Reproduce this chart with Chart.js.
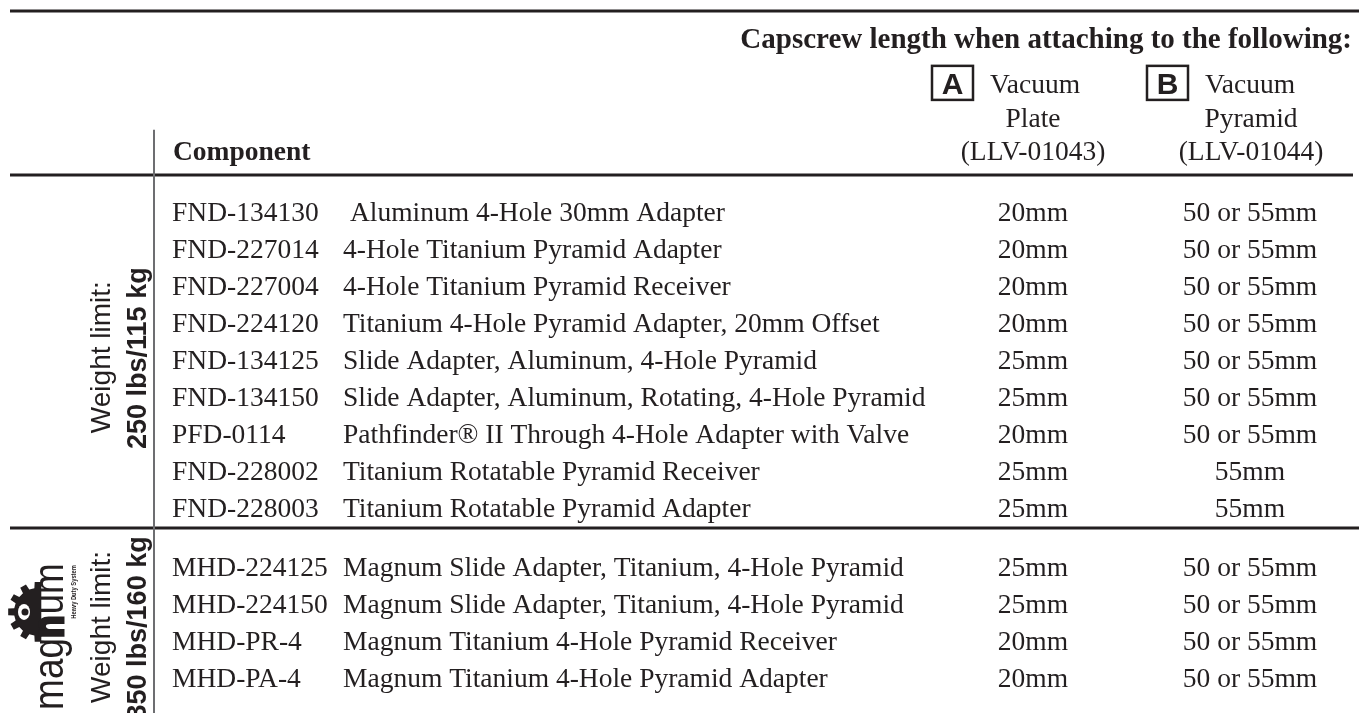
<!DOCTYPE html>
<html>
<head>
<meta charset="utf-8">
<title>Capscrew length table</title>
<script src="https://cdn.jsdelivr.net/npm/chart.js@4"></script>
<style>
  html, body { margin: 0; padding: 0; background: #fff; }
  #wrap { width: 1359px; height: 713px; }
</style>
</head>
<body>
<div id="wrap"><canvas id="myChart"></canvas></div>
<script>
// table data
const partNumbers = ['FND-134130', 'FND-227014', 'FND-227004', 'FND-224120', 'FND-134125', 'FND-134150',
    'PFD-0114', 'FND-228002', 'FND-228003', 'MHD-224125', 'MHD-224150', 'MHD-PR-4', 'MHD-PA-4'];
const descriptions = [' Aluminum 4-Hole 30mm Adapter', '4-Hole Titanium Pyramid Adapter',
    '4-Hole Titanium Pyramid Receiver', 'Titanium 4-Hole Pyramid Adapter, 20mm Offset',
    'Slide Adapter, Aluminum, 4-Hole Pyramid', 'Slide Adapter, Aluminum, Rotating, 4-Hole Pyramid',
    'Pathfinder® II Through 4-Hole Adapter with Valve', 'Titanium Rotatable Pyramid Receiver',
    'Titanium Rotatable Pyramid Adapter', 'Magnum Slide Adapter, Titanium, 4-Hole Pyramid',
    'Magnum Slide Adapter, Titanium, 4-Hole Pyramid', 'Magnum Titanium 4-Hole Pyramid Receiver',
    'Magnum Titanium 4-Hole Pyramid Adapter'];
const plateLengths = ['20mm', '20mm', '20mm', '20mm', '25mm', '25mm', '20mm', '25mm', '25mm',
    '25mm', '25mm', '20mm', '20mm'];
const pyramidLengths = ['50 or 55mm', '50 or 55mm', '50 or 55mm', '50 or 55mm', '50 or 55mm', '50 or 55mm',
    '50 or 55mm', '55mm', '55mm', '50 or 55mm', '50 or 55mm', '50 or 55mm', '50 or 55mm'];
const rowSection = [0, 0, 0, 0, 0, 0, 0, 0, 0, 1, 1, 1, 1];
const sectionWeights = ['250 lbs/115 kg', '350 lbs/160 kg'];

const headerTitle = 'Capscrew length when attaching to the following:';
const headerComponent = 'Component';
const plateHeader = ['A', 'Vacuum', 'Plate', '(LLV-01043)'];
const pyramidHeader = ['B', 'Vacuum', 'Pyramid', '(LLV-01044)'];

// layout (row units on y, pixels on x)
const ink = '#231f20';
const serif = '"Liberation Serif", "Times New Roman", serif';
const sans = '"Liberation Sans", Arial, sans-serif';
const sectionGap = 0.6;
const rowValues = rowSection.map((s, i) => i + (s ? sectionGap : 0));
const sectionCenters = [3.95, 11.24];

function column(labels, x, align) {
    return {
        data: rowValues.map(v => ({ x: x, y: v })),
        labels: labels,
        align: align,
        pointRadius: 0,
        showLine: false
    };
}

const cellText = {
    id: 'cellText',
    afterDatasetsDraw(chart) {
        const ctx = chart.ctx;
        chart.data.datasets.forEach((ds, di) => {
            const meta = chart.getDatasetMeta(di);
            ctx.save();
            ctx.fillStyle = ink;
            ctx.font = '27.5px ' + serif;
            ctx.textAlign = ds.align;
            ctx.textBaseline = 'alphabetic';
            meta.data.forEach((pt, i) => ctx.fillText(ds.labels[i], pt.x, pt.y + 9));
            ctx.restore();
        });
    }
};

function rotatedText(ctx, text, x, y, font, sx) {
    ctx.save();
    ctx.translate(x, y);
    ctx.rotate(-Math.PI / 2);
    if (sx) ctx.scale(sx, 1);
    ctx.font = font;
    ctx.textAlign = 'center';
    ctx.textBaseline = 'alphabetic';
    ctx.fillText(text, 0, 0);
    ctx.restore();
}

function drawLogo(ctx, cy) {
    // gear
    const gx = 38, gy = cy - 16;
    ctx.save();
    ctx.fillStyle = ink;
    ctx.beginPath();
    const teeth = 6;
    for (let k = 0; k <= teeth * 2; k++) {
        const a = Math.PI / 2 + Math.PI * k / (teeth * 2);
        const r = (k % 2 === 0) ? 30 : 24;
        ctx.lineTo(gx + r * Math.cos(a - 0.11), gy + r * Math.sin(a - 0.11));
        ctx.lineTo(gx + r * Math.cos(a + 0.11), gy + r * Math.sin(a + 0.11));
    }
    ctx.closePath();
    ctx.fill();
    ctx.fillStyle = '#fff';
    ctx.beginPath();
    ctx.ellipse(gx - 14, gy, 6, 8, 0, 0, Math.PI * 2);
    ctx.fill();
    ctx.fillStyle = ink;
    ctx.beginPath();
    ctx.arc(gx - 13, gy, 3.5, 0, Math.PI * 2);
    ctx.fill();
    ctx.restore();

    // magnum word, reading bottom to top
    ctx.save();
    ctx.fillStyle = ink;
    ctx.translate(63, cy + 82);
    ctx.rotate(-Math.PI / 2);
    ctx.scale(0.88, 1);
    ctx.textBaseline = 'alphabetic';
    ctx.textAlign = 'left';
    ctx.font = '42px ' + sans;
    const w1 = ctx.measureText('mag').width;
    ctx.fillText('mag', 0, 0);
    ctx.font = 'bold 42px ' + sans;
    ctx.strokeStyle = ink;
    ctx.lineWidth = 3;
    ctx.strokeText('n', w1, 0);
    ctx.fillText('n', w1, 0);
    const w2 = ctx.measureText('n').width;
    ctx.font = '42px ' + sans;
    ctx.fillText('um', w1 + w2 + 1, 0);
    ctx.restore();

    rotatedText(ctx, 'Heavy Duty System', 76, cy - 36, 'bold 8px ' + sans, 0.72);
}

const frame = {
    id: 'frame',
    beforeDatasetsDraw(chart) {
        const ctx = chart.ctx;
        const x = chart.scales.x, y = chart.scales.y;
        const rule = (v, x0, x1, w, c) => {
            ctx.beginPath();
            ctx.strokeStyle = c || ink;
            ctx.lineWidth = w;
            ctx.moveTo(x.getPixelForValue(x0), y.getPixelForValue(v));
            ctx.lineTo(x.getPixelForValue(x1), y.getPixelForValue(v));
            ctx.stroke();
        };
        ctx.save();
        rule(-5.43, 10, 1359, 3);
        rule(-1.0, 10, 1353, 3);
        rule(8.54, 10, 1359, 3);
        // vertical divider
        ctx.beginPath();
        ctx.strokeStyle = '#6d6e71';
        ctx.lineWidth = 2;
        ctx.moveTo(x.getPixelForValue(154), y.getPixelForValue(-2.22));
        ctx.lineTo(x.getPixelForValue(154), y.getPixelForValue(13.6));
        ctx.stroke();

        ctx.fillStyle = ink;
        ctx.textBaseline = 'alphabetic';
        ctx.font = 'bold 29px ' + serif;
        ctx.textAlign = 'right';
        ctx.fillText(headerTitle, x.getPixelForValue(1352), y.getPixelForValue(-4.43));
        ctx.font = 'bold 27.5px ' + serif;
        ctx.textAlign = 'left';
        ctx.fillText(headerComponent, x.getPixelForValue(173), y.getPixelForValue(-1.41));

        const colHead = (lab, boxX, vacX, cx) => {
            const top = y.getPixelForValue(-3.95), bot = y.getPixelForValue(-3.03);
            ctx.lineWidth = 2.5;
            ctx.strokeStyle = ink;
            ctx.strokeRect(x.getPixelForValue(boxX), top, 41, bot - top);
            ctx.font = 'bold 30px ' + sans;
            ctx.textAlign = 'center';
            ctx.fillText(lab[0], x.getPixelForValue(boxX + 20.5), bot - 6);
            ctx.font = '27.5px ' + serif;
            ctx.textAlign = 'left';
            ctx.fillText(lab[1], x.getPixelForValue(vacX), y.getPixelForValue(-3.22));
            ctx.textAlign = 'center';
            ctx.fillText(lab[2], x.getPixelForValue(cx), y.getPixelForValue(-2.30));
            ctx.fillText(lab[3], x.getPixelForValue(cx), y.getPixelForValue(-1.41));
        };
        colHead(plateHeader, 932, 990, 1033);
        colHead(pyramidHeader, 1147, 1205, 1251);

        // section labels
        sectionWeights.forEach((w, s) => {
            const cy = y.getPixelForValue(sectionCenters[s]);
            rotatedText(ctx, 'Weight limit:', x.getPixelForValue(110), cy - 1, '28px ' + sans);
            rotatedText(ctx, w, x.getPixelForValue(146), cy, 'bold 27px ' + sans);
        });
        drawLogo(ctx, y.getPixelForValue(sectionCenters[1]));
        ctx.restore();
    }
};

function mainEvent() {
    const ctx = document.querySelector('#myChart');
    new Chart(ctx, {
        type: 'scatter',
        data: {
            datasets: [
                column(partNumbers, 172, 'left'),
                column(descriptions, 343, 'left'),
                column(plateLengths, 1033, 'center'),
                column(pyramidLengths, 1250, 'center')
            ]
        },
        options: {
            responsive: true,
            maintainAspectRatio: false,
            animation: false,
            events: [],
            layout: { padding: 0 },
            plugins: { legend: { display: false }, tooltip: { enabled: false } },
            scales: {
                x: { type: 'linear', display: false, min: 0, max: 1359 },
                y: { type: 'linear', display: false, reverse: true, min: -5.73, max: 13.54 }
            }
        },
        plugins: [frame, cellText]
    });
}

document.addEventListener('DOMContentLoaded', mainEvent);
</script>
</body>
</html>
